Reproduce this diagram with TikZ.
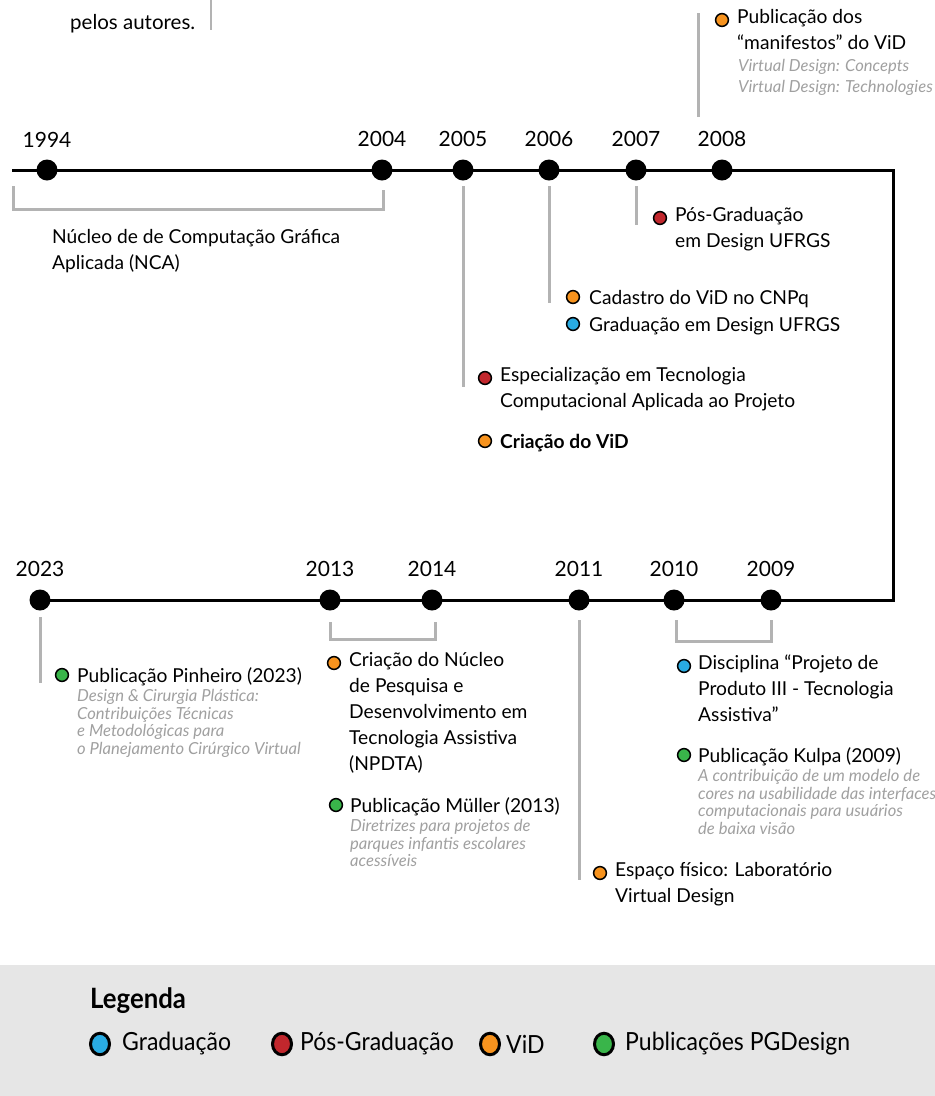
\documentclass[tikz,border=0pt]{standalone}
\usepackage{fontspec}
\setmainfont{Lato}
\newfontfamily\legfont[FakeStretch=0.92]{Lato}
\usetikzlibrary{positioning,calc,shapes.geometric}

\definecolor{gradcol}{HTML}{29ABE2}
\definecolor{posgradcol}{HTML}{C1272D}
\definecolor{vidcol}{HTML}{F7931E}
\definecolor{pubcol}{HTML}{39B54A}
\definecolor{leadgray}{HTML}{B3B3B3}
\definecolor{subgray}{HTML}{A0A0A0}
\definecolor{legendbg}{HTML}{E6E6E6}

\tikzset{
  yeardot/.style={circle, fill=black, inner sep=0pt, minimum size=21pt},
  yearlabel/.style={font=\fontsize{21}{25}\selectfont, inner sep=0pt},
  evdot/.style={circle, draw=black, line width=1.5pt, fill=#1, inner sep=0pt, minimum size=12.8pt},
  legdot/.style={ellipse, draw=black, line width=3pt, fill=#1, inner sep=0pt, minimum width=19pt, minimum height=21.5pt},
  legtext/.style={anchor=west, inner sep=0pt, font=\legfont\fontsize{25}{30}\selectfont},
  evtext/.style={anchor=north west, inner sep=0pt, align=left,
    font=\fontsize{19.2}{26}\selectfont, execute at begin node={\rule{0pt}{18pt}}},
  evsub/.style={anchor=north west, inner sep=0pt, align=left, text=subgray,
    font=\fontsize{16.6}{17.7}\selectfont\itshape, execute at begin node={\rule{0pt}{14pt}}},
  leader/.style={draw=leadgray, line width=3pt},
  tline/.style={draw=black, line width=3pt},
}

\begin{document}
\begin{tikzpicture}[x=1pt, y=-1pt]
\useasboundingbox (0,0) rectangle (935,1096);

% caption fragment
\node[anchor=base west, inner sep=0pt, font=\fontsize{20.5}{26}\selectfont] (cap) at (70,29) {pelos autores.};
\coordinate (captop) at (211,0);
\coordinate (capbot) at (211,30);
\draw[leadgray, line width=2pt] (captop) -- (capbot);

% timeline
\coordinate (tstart) at (12,170);
\coordinate (tturn1) at (893,170);
\coordinate (tturn2) at (893,600);
\coordinate (tend) at (40,600);
\draw[tline] (tstart) -- (tturn1) -- (tturn2) -- (tend);

\foreach \yr/\x in {1994/47, 2004/382, 2005/463, 2006/549, 2007/636, 2008/722} {
    \node[yeardot] (d\yr) at (\x,170) {};
    \node[yearlabel, above=12pt of d\yr] (l\yr) {\yr};
}
\foreach \yr/\x in {2023/40, 2013/330, 2014/432, 2011/579, 2010/674, 2009/771} {
    \node[yeardot] (d\yr) at (\x,600) {};
    \node[yearlabel, above=12pt of d\yr] (l\yr) {\yr};
}

% leaders
\draw[leader] ($(tstart)+(1,16)$) -- ++(0,23) -| ($(d2004)+(1,20)$);
\draw[leader] ($(d2005)+(0,16)$) -- ++(0,201);
\draw[leader] ($(d2006)+(0,16)$) -- ++(0,117);
\draw[leader] ($(d2007)+(0,16)$) -- ++(0,39);
\draw[leader] ($(d2008)+(-24,-53)$) -- ++(0,-104);
\draw[leader] ($(d2023)+(0,17)$) -- ++(0,66);
\draw[leader] ($(d2013)+(0,22)$) -- ++(0,17) -| ($(d2014)+(3,22)$);
\draw[leader] ($(d2011)+(0,20)$) -- ++(0,260);
\draw[leader] ($(d2010)+(2,20)$) -- ++(0,21) -| ($(d2009)+(0,20)$);

% 1994 - 2004
\node[evtext] (nca) at (52,229) {Núcleo de de Computação Gráfica\\Aplicada (NCA)};

% top events
\node[evdot=vidcol] (b08) at (722,20) {};
\node[evtext] (t08) at (737,9) {Publicação dos\\“manifestos” do ViD};
\node[evsub, font=\fontsize{16.6}{21.5}\selectfont\itshape] (s08) at (738,59) {Virtual Design: Concepts\\Virtual Design: Technologies};

\node[evdot=posgradcol] (b07) at (660,218) {};
\node[evtext] (t07) at (675,207) {Pós-Graduação\\em Design UFRGS};

\node[evdot=vidcol] (b06a) at (573,297) {};
\node[evtext] (t06a) at (589,286) {Cadastro do ViD no CNPq};
\node[evdot=gradcol] (b06b) at (573,324) {};
\node[evtext] (t06b) at (589,313) {Graduação em Design UFRGS};

\node[evdot=posgradcol] (b05a) at (485,378) {};
\node[evtext] (t05a) at (500,367) {Especialização em Tecnologia\\Computacional Aplicada ao Projeto};
\node[evdot=vidcol] (b05b) at (485,441) {};
\node[evtext, font=\fontsize{19.2}{26}\selectfont\bfseries] (t05b) at (500,430) {Criação do ViD};

% bottom events
\node[evdot=pubcol] (b23) at (62,675) {};
\node[evtext] (t23) at (77,664) {Publicação Pinheiro (2023)};
\node[evsub] (s23) at (77,689) {Design \& Cirurgia Plástica:\\Contribuições Técnicas\\e Metodológicas para\\o Planejamento Cirúrgico Virtual};

\node[evdot=vidcol] (b13a) at (334,663) {};
\node[evtext] (t13a) at (349,652) {Criação do Núcleo\\de Pesquisa e\\Desenvolvimento em\\Tecnologia Assistiva\\(NPDTA)};
\node[evdot=pubcol] (b13b) at (336,805) {};
\node[evtext] (t13b) at (350,794) {Publicação Müller (2013)};
\node[evsub] (s13b) at (350,819) {Diretrizes para projetos de\\parques infantis escolares\\acessíveis};

\node[evdot=gradcol] (b09a) at (684,666) {};
\node[evtext] (t09a) at (698,655) {Disciplina “Projeto de\\Produto III - Tecnologia\\Assistiva”};
\node[evdot=pubcol] (b09b) at (684,755) {};
\node[evtext] (t09b) at (698,744) {Publicação Kulpa (2009)};
\node[evsub] (s09b) at (698,769) {A contribuição de um modelo de\\cores na usabilidade das interfaces\\computacionais para usuários\\de baixa visão};

\node[evdot=vidcol] (b11) at (600,873) {};
\node[evtext] (t11) at (615,862) {Espaço físico: Laboratório\\Virtual Design};

% legenda
\fill[legendbg] (0,965) rectangle (935,1096);
\node[anchor=west, inner sep=0pt, font=\legfont\fontsize{28}{32}\selectfont\bfseries] (legtitle) at (90,1001) {Legenda};
\node[legdot=gradcol] (lg1) at (100,1044) {};
\node[legtext] (lt1) at (122,1044) {Graduação};
\node[legdot=posgradcol] (lg2) at (282,1044) {};
\node[legtext] (lt2) at (300,1044) {Pós-Graduação};
\node[legdot=vidcol] (lg3) at (490,1044) {};
\node[legtext] (lt3) at (506,1044) {ViD};
\node[legdot=pubcol] (lg4) at (604,1044) {};
\node[legtext] (lt4) at (625,1044) {Publicações PGDesign};

\end{tikzpicture}
\end{document}
